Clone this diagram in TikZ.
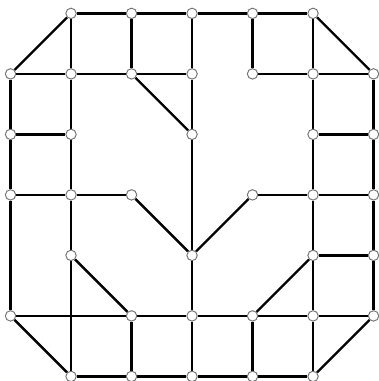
\documentclass[tikz,border=0pt]{standalone}
\usepackage{tikz}
\usetikzlibrary{backgrounds}

\begin{document}
\begin{tikzpicture}[
  vertex/.style={circle, draw=black!55, line width=0.45pt, fill=white,
                 inner sep=0pt, minimum size=4.9pt},
  edge/.style={draw=black, line width=1.1pt}
]
\useasboundingbox (-0.174,0.221) rectangle (6.074,-6.076);

% Row 0
\node[vertex] (v10) at (1,0) {};
\node[vertex] (v20) at (2,0) {};
\node[vertex] (v30) at (3,0) {};
\node[vertex] (v40) at (4,0) {};
\node[vertex] (v50) at (5,0) {};

% Row 1
\node[vertex] (v01) at (0,-1) {};
\node[vertex] (v11) at (1,-1) {};
\node[vertex] (v21) at (2,-1) {};
\node[vertex] (v31) at (3,-1) {};
\node[vertex] (v41) at (4,-1) {};
\node[vertex] (v51) at (5,-1) {};
\node[vertex] (v61) at (6,-1) {};

% Row 2
\node[vertex] (v02) at (0,-2) {};
\node[vertex] (v12) at (1,-2) {};
\node[vertex] (v32) at (3,-2) {};
\node[vertex] (v52) at (5,-2) {};
\node[vertex] (v62) at (6,-2) {};

% Row 3
\node[vertex] (v03) at (0,-3) {};
\node[vertex] (v13) at (1,-3) {};
\node[vertex] (v23) at (2,-3) {};
\node[vertex] (v43) at (4,-3) {};
\node[vertex] (v53) at (5,-3) {};
\node[vertex] (v63) at (6,-3) {};

% Row 4
\node[vertex] (v14) at (1,-4) {};
\node[vertex] (v34) at (3,-4) {};
\node[vertex] (v54) at (5,-4) {};
\node[vertex] (v64) at (6,-4) {};

% Row 5
\node[vertex] (v05) at (0,-5) {};
\node[vertex] (v25) at (2,-5) {};
\node[vertex] (v35) at (3,-5) {};
\node[vertex] (v45) at (4,-5) {};
\node[vertex] (v55) at (5,-5) {};
\node[vertex] (v65) at (6,-5) {};

% Row 6
\node[vertex] (v16) at (1,-6) {};
\node[vertex] (v26) at (2,-6) {};
\node[vertex] (v36) at (3,-6) {};
\node[vertex] (v46) at (4,-6) {};
\node[vertex] (v56) at (5,-6) {};

\begin{scope}[on background layer]
% horizontal edges
\draw[edge] (v10) -- (v20) -- (v30) -- (v40) -- (v50);
\draw[edge] (v01) -- (v11) -- (v21) -- (v31);
\draw[edge] (v41) -- (v51) -- (v61);
\draw[edge] (v02) -- (v12);
\draw[edge] (v52) -- (v62);
\draw[edge] (v03) -- (v13) -- (v23);
\draw[edge] (v43) -- (v53) -- (v63);
\draw[edge] (v54) -- (v64);
\draw[edge] (v05) -- (v25) -- (v35) -- (v45) -- (v55) -- (v65);
\draw[edge] (v16) -- (v26) -- (v36) -- (v46) -- (v56);

% vertical edges
\draw[edge] (v01) -- (v02) -- (v03) -- (v05);
\draw[edge] (v10) -- (v11) -- (v12) -- (v13) -- (v14) -- (v16);
\draw[edge] (v20) -- (v21);
\draw[edge] (v25) -- (v26);
\draw[edge] (v30) -- (v31) -- (v32) -- (v34) -- (v35) -- (v36);
\draw[edge] (v40) -- (v41);
\draw[edge] (v45) -- (v46);
\draw[edge] (v50) -- (v51) -- (v52) -- (v53) -- (v54) -- (v55) -- (v56);
\draw[edge] (v61) -- (v62) -- (v63) -- (v64) -- (v65);

% diagonal edges
\draw[edge] (v10) -- (v01);
\draw[edge] (v50) -- (v61);
\draw[edge] (v21) -- (v32);
\draw[edge] (v23) -- (v34);
\draw[edge] (v43) -- (v34);
\draw[edge] (v14) -- (v25);
\draw[edge] (v54) -- (v45);
\draw[edge] (v05) -- (v16);
\draw[edge] (v65) -- (v56);
\end{scope}

\end{tikzpicture}
\end{document}
